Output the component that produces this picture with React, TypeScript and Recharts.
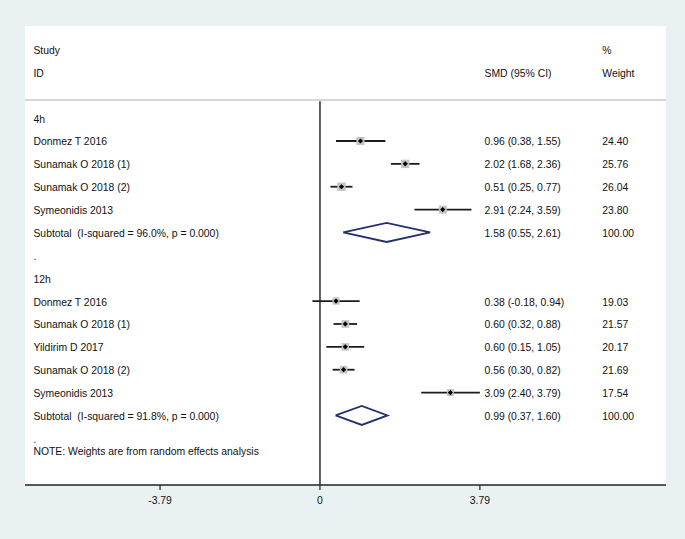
import React from 'react';
import { ComposedChart, XAxis, YAxis, Scatter, ReferenceLine, ReferenceArea } from 'recharts';

// ---- data ----
const group4hLabel = '4h';
const studies4h = ['Donmez T 2016', 'Sunamak O 2018 (1)', 'Sunamak O 2018 (2)', 'Symeonidis 2013'];
const est4h = [0.96, 2.02, 0.51, 2.91];
const lo4h = [0.38, 1.68, 0.25, 2.24];
const hi4h = [1.55, 2.36, 0.77, 3.59];
const w4h = [24.4, 25.76, 26.04, 23.8];
const sub4h = { est: 1.58, lo: 0.55, hi: 2.61, i2: '96.0%', p: '0.000' };

const group12hLabel = '12h';
const studies12h = ['Donmez T 2016', 'Sunamak O 2018 (1)', 'Yildirim D 2017', 'Sunamak O 2018 (2)', 'Symeonidis 2013'];
const est12h = [0.38, 0.6, 0.6, 0.56, 3.09];
const lo12h = [-0.18, 0.32, 0.15, 0.3, 2.4];
const hi12h = [0.94, 0.88, 1.05, 0.82, 3.79];
const w12h = [19.03, 21.57, 20.17, 21.69, 17.54];
const sub12h = { est: 0.99, lo: 0.37, hi: 1.6, i2: '91.8%', p: '0.000' };

const tickValues = [-3.79, 0, 3.79];
const tickLabels = ['-3.79', '0', '3.79'];
const noteText = 'NOTE: Weights are from random effects analysis';

// ---- layout constants (axis units) ----
const X_MIN = -6.99;
const X_MAX = 8.2;
const Y_MIN = -1.027;
const Y_MAX = 19.04;
const COL_STUDY = -6.79;
const COL_CI = 3.9;
const COL_W = 6.69;

const FONT = '"Liberation Sans", Arial, Helvetica, sans-serif';
const NAVY = '#24306c';

const f2 = (v: number) => v.toFixed(2);
const ciText = (e: number, l: number, h: number) => `${f2(e)} (${f2(l)}, ${f2(h)})`;

type TextItem = { x: number; y: number; label: string };
type StudyPt = { x: number; y: number; lo: number; hi: number; w: number };

const texts: TextItem[] = [];
const studyPts: StudyPt[] = [];
const diamonds: { x: number; y: number }[][] = [];

texts.push({ x: COL_STUDY, y: 0, label: 'Study' });
texts.push({ x: COL_W, y: 0, label: '%' });
texts.push({ x: COL_STUDY, y: 1, label: 'ID' });
texts.push({ x: COL_CI, y: 1, label: 'SMD (95% CI)' });
texts.push({ x: COL_W, y: 1, label: 'Weight' });

function addGroup(
  startRow: number,
  label: string,
  names: string[],
  est: number[],
  lo: number[],
  hi: number[],
  w: number[],
  sub: { est: number; lo: number; hi: number; i2: string; p: string }
) {
  texts.push({ x: COL_STUDY, y: startRow, label });
  names.forEach((n, i) => {
    const r = startRow + 1 + i;
    texts.push({ x: COL_STUDY, y: r, label: n });
    texts.push({ x: COL_CI, y: r, label: ciText(est[i], lo[i], hi[i]) });
    texts.push({ x: COL_W, y: r, label: f2(w[i]) });
    studyPts.push({ x: est[i], y: r, lo: lo[i], hi: hi[i], w: w[i] });
  });
  const sr = startRow + 1 + names.length;
  texts.push({ x: COL_STUDY, y: sr, label: `Subtotal  (I-squared = ${sub.i2}, p = ${sub.p})` });
  texts.push({ x: COL_CI, y: sr, label: ciText(sub.est, sub.lo, sub.hi) });
  texts.push({ x: COL_W, y: sr, label: '100.00' });
  texts.push({ x: COL_STUDY, y: sr + 1, label: '.' });
  const hh = 0.415;
  diamonds.push([
    { x: sub.lo, y: sr },
    { x: sub.est, y: sr - hh },
    { x: sub.hi, y: sr },
    { x: sub.est, y: sr + hh },
    { x: sub.lo, y: sr },
  ]);
  return sr + 2;
}

const next = addGroup(3, group4hLabel, studies4h, est4h, lo4h, hi4h, w4h, sub4h);
addGroup(next, group12hLabel, studies12h, est12h, lo12h, hi12h, w12h, sub12h);
texts.push({ x: COL_STUDY, y: 17.55, label: noteText });

const TextShape = (props: any) => {
  const { cx, cy, payload } = props;
  if (cx == null || cy == null) return <g />;
  return (
    <text
      x={cx}
      y={cy + 1}
      dominantBaseline="central"
      fontFamily={FONT}
      fontSize={10.4}
      fill="#111"
      style={{ whiteSpace: 'pre' }}
    >
      {payload.label}
    </text>
  );
};

const MarkerShape = (props: any) => {
  const { cx, cy, payload } = props;
  if (cx == null || cy == null) return <g />;
  const s = 1.65 * Math.sqrt(payload.w);
  const d = 2.6;
  return (
    <g>
      <rect x={cx - s / 2} y={cy - s / 2} width={s} height={s} fill="#c4c4c4" />
      <path d={`M${cx - d},${cy} L${cx},${cy - d} L${cx + d},${cy} L${cx},${cy + d} Z`} fill="#000" />
    </g>
  );
};

const Empty = () => <g />;

export default function App() {
  return (
    <div
      style={{
        position: 'absolute',
        left: 0,
        top: 0,
        width: 685,
        height: 539,
        background: '#eaf1f2',
      }}
    >
      <ComposedChart
        width={685}
        height={539}
        margin={{ top: 26, right: 19, bottom: 24, left: 25 }}
      >
        <XAxis
          type="number"
          dataKey="x"
          domain={[X_MIN, X_MAX]}
          allowDataOverflow
          ticks={tickValues}
          tickFormatter={(v: number) => tickLabels[tickValues.indexOf(v)] ?? String(v)}
          height={30}
          tickSize={5}
          tickMargin={7}
          axisLine={{ stroke: '#222', strokeWidth: 1.4 }}
          tickLine={{ stroke: '#222', strokeWidth: 1.2 }}
          tick={{ fontSize: 10.4, fontFamily: FONT, fill: '#111' }}
        />
        <YAxis type="number" dataKey="y" domain={[Y_MIN, Y_MAX]} allowDataOverflow reversed hide />
        <ReferenceArea
          x1={X_MIN}
          x2={X_MAX}
          y1={Y_MIN}
          y2={Y_MAX}
          fill="#ffffff"
          fillOpacity={1}
          stroke="none"
          ifOverflow="extendDomain"
        />
        <ReferenceLine
          segment={[{ x: X_MIN, y: 2.21 }, { x: X_MAX, y: 2.21 }]}
          stroke="#d6d6d6"
          strokeWidth={2}
        />
        <ReferenceLine
          segment={[{ x: 0, y: 2.26 }, { x: 0, y: Y_MAX }]}
          stroke="#3a3a3a"
          strokeWidth={1.6}
        />
        {studyPts.map((p, i) => (
          <ReferenceLine
            key={'ci' + i}
            segment={[{ x: p.lo, y: p.y }, { x: p.hi, y: p.y }]}
            stroke="#1c1c1c"
            strokeWidth={1.8}
          />
        ))}
        <Scatter data={studyPts} dataKey="y" shape={MarkerShape} isAnimationActive={false} />
        {diamonds.map((d, i) => (
          <Scatter
            key={'dm' + i}
            data={d}
            dataKey="y"
            line={{ stroke: NAVY, strokeWidth: 1.8 }}
            lineType="joint"
            shape={Empty}
            isAnimationActive={false}
          />
        ))}
        <Scatter data={texts} dataKey="y" shape={TextShape} isAnimationActive={false} />
      </ComposedChart>
    </div>
  );
}
